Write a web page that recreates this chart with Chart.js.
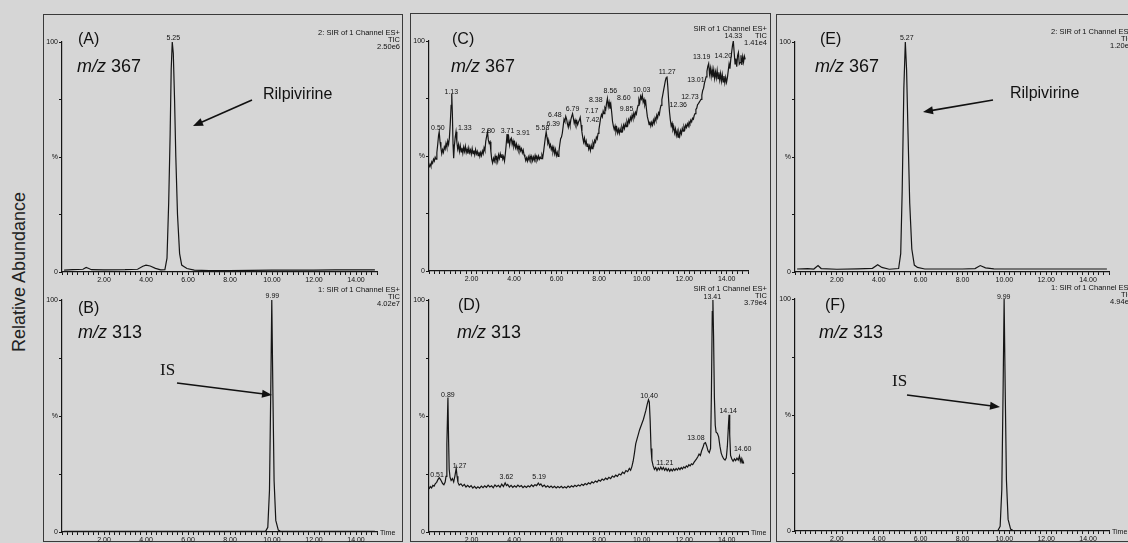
<!DOCTYPE html>
<html>
<head>
<meta charset="utf-8">
<script src="https://cdn.jsdelivr.net/npm/chart.js@4.4.1/dist/chart.umd.min.js"></script>
<style>
  body { margin:0; width:1128px; height:543px; background:#d6d6d6; position:relative; overflow:hidden; font-family:"Liberation Sans", Arial, sans-serif; }
  .caja { position:absolute; border:1.5px solid #3a3a3a; box-sizing:border-box; }
  canvas { position:absolute; }
  #ylab { position:absolute; left:19px; top:272px; transform:translate(-50%,-50%) rotate(-90deg); font-size:18px; color:#222; white-space:nowrap; }
</style>
</head>
<body>
<div class="caja" style="left:43px;top:14px;width:360px;height:528px"></div>
<div class="caja" style="left:410px;top:13px;width:361px;height:529px"></div>
<div class="caja" style="left:776px;top:14px;width:360px;height:528px"></div>
<div id="ylab">Relative Abundance</div>
<canvas id="chA"></canvas>
<canvas id="chB"></canvas>
<canvas id="chC"></canvas>
<canvas id="chD"></canvas>
<canvas id="chE"></canvas>
<canvas id="chF"></canvas>
<script>
// ejes
const timeTicks = [2, 4, 6, 8, 10, 12, 14];
const abundanceTicks = { 0: "0", 50: "%", 100: "100" };

// (A) m/z 367 - Rilpivirine
const timeA = [0.1, 0.5, 1.0, 1.15, 1.25, 1.4, 2.0, 3.0, 3.6, 3.85, 4.0, 4.2, 4.45, 4.7, 4.9, 5.0, 5.08, 5.15, 5.2, 5.25, 5.3, 5.36, 5.42, 5.5, 5.6, 5.7, 5.8, 5.95, 6.3, 7.0, 8.0, 9.0, 10.0, 11.0, 12.0, 13.0, 14.0, 14.9];
const signalA = [0.8, 1.0, 1.2, 2.0, 1.6, 1.0, 0.9, 1.0, 1.2, 2.5, 3.0, 2.6, 1.6, 0.9, 1.0, 6, 30, 60, 88, 100, 95, 75, 50, 25, 8, 3, 2.4, 1.5, 0.8, 0.6, 0.6, 0.7, 0.8, 0.8, 0.8, 0.9, 0.9, 0.9];

// (B) m/z 313 - IS
const timeB = [0.1, 2.0, 5.0, 8.0, 9.6, 9.7, 9.8, 9.88, 9.94, 9.99, 10.04, 10.1, 10.18, 10.3, 10.4, 11.0, 13.0, 14.9];
const signalB = [0.3, 0.3, 0.3, 0.3, 0.3, 0.4, 2, 18, 60, 100, 62, 22, 5, 0.8, 0.3, 0.3, 0.3, 0.3];

// (C) m/z 367 - blanco
const timeC = [0.00, 0.05, 0.09, 0.13, 0.17, 0.21, 0.25, 0.29, 0.33, 0.37, 0.41, 0.45, 0.48, 0.52, 0.56, 0.60, 0.64, 0.68, 0.72, 0.76, 0.80, 0.84, 0.88, 0.92, 0.96, 1.00, 1.04, 1.07, 1.10, 1.13, 1.16, 1.19, 1.23, 1.27, 1.31, 1.35, 1.39, 1.43, 1.47, 1.51, 1.55, 1.59, 1.63, 1.67, 1.71, 1.75, 1.79, 1.83, 1.87, 1.91, 1.95, 1.99, 2.03, 2.07, 2.11, 2.15, 2.19, 2.23, 2.27, 2.31, 2.35, 2.39, 2.43, 2.47, 2.51, 2.55, 2.59, 2.63, 2.67, 2.71, 2.75, 2.79, 2.83, 2.87, 2.91, 2.95, 2.99, 3.03, 3.07, 3.11, 3.15, 3.19, 3.23, 3.27, 3.31, 3.35, 3.39, 3.43, 3.47, 3.51, 3.55, 3.59, 3.63, 3.67, 3.71, 3.75, 3.79, 3.83, 3.87, 3.91, 3.95, 3.99, 4.03, 4.07, 4.11, 4.15, 4.19, 4.23, 4.27, 4.31, 4.35, 4.39, 4.43, 4.47, 4.51, 4.55, 4.59, 4.63, 4.67, 4.71, 4.75, 4.79, 4.83, 4.87, 4.91, 4.95, 4.99, 5.03, 5.07, 5.11, 5.15, 5.19, 5.23, 5.27, 5.31, 5.35, 5.39, 5.43, 5.47, 5.51, 5.55, 5.59, 5.63, 5.67, 5.71, 5.75, 5.79, 5.83, 5.87, 5.91, 5.95, 5.99, 6.03, 6.07, 6.11, 6.15, 6.19, 6.23, 6.27, 6.31, 6.35, 6.39, 6.43, 6.47, 6.51, 6.55, 6.59, 6.63, 6.67, 6.71, 6.75, 6.79, 6.83, 6.87, 6.91, 6.95, 6.99, 7.03, 7.07, 7.11, 7.15, 7.19, 7.23, 7.27, 7.31, 7.35, 7.39, 7.43, 7.47, 7.51, 7.55, 7.59, 7.63, 7.67, 7.71, 7.75, 7.79, 7.83, 7.87, 7.91, 7.95, 7.99, 8.03, 8.07, 8.11, 8.15, 8.19, 8.23, 8.27, 8.31, 8.35, 8.39, 8.43, 8.47, 8.51, 8.55, 8.59, 8.63, 8.67, 8.71, 8.75, 8.79, 8.83, 8.87, 8.91, 8.95, 8.99, 9.03, 9.07, 9.11, 9.15, 9.19, 9.23, 9.27, 9.31, 9.35, 9.39, 9.43, 9.47, 9.51, 9.55, 9.59, 9.63, 9.67, 9.71, 9.75, 9.79, 9.83, 9.87, 9.91, 9.95, 9.99, 10.03, 10.07, 10.11, 10.15, 10.19, 10.23, 10.27, 10.31, 10.35, 10.39, 10.43, 10.47, 10.51, 10.55, 10.59, 10.63, 10.67, 10.71, 10.75, 10.79, 10.83, 10.87, 10.91, 10.95, 10.99, 11.03, 11.07, 11.11, 11.15, 11.19, 11.23, 11.27, 11.31, 11.35, 11.39, 11.43, 11.47, 11.51, 11.55, 11.59, 11.63, 11.67, 11.71, 11.75, 11.79, 11.83, 11.87, 11.91, 11.95, 11.99, 12.03, 12.07, 12.11, 12.15, 12.19, 12.23, 12.27, 12.31, 12.35, 12.39, 12.43, 12.47, 12.51, 12.55, 12.59, 12.63, 12.67, 12.71, 12.75, 12.79, 12.83, 12.87, 12.91, 12.95, 12.99, 13.03, 13.07, 13.11, 13.15, 13.19, 13.23, 13.27, 13.31, 13.35, 13.39, 13.43, 13.47, 13.51, 13.55, 13.59, 13.63, 13.67, 13.71, 13.75, 13.79, 13.83, 13.87, 13.91, 13.95, 13.99, 14.03, 14.07, 14.11, 14.15, 14.19, 14.23, 14.27, 14.31, 14.35, 14.39, 14.43, 14.47, 14.51, 14.55, 14.59, 14.63, 14.67, 14.71, 14.75, 14.79, 14.83, 14.87];
const signalC = [45, 46.5, 45.5, 47.5, 46.8, 48.6, 47.8, 49.5, 48.6, 51.5, 55, 59, 60.5, 56, 53.5, 51, 52.8, 51.6, 54, 53, 55.5, 53.8, 56.5, 55, 58, 64, 72, 77, 68, 55, 49, 54, 58, 60.5, 56, 53, 55, 52, 54.5, 51.8, 53.6, 51.2, 53.8, 52, 54.2, 51.5, 53, 51, 53.5, 51.4, 52.6, 50.8, 53.2, 51, 52.4, 50.5, 52.8, 50.9, 52, 50.2, 51.8, 49.8, 51.5, 50.2, 52.2, 51, 53.6, 52.4, 56.5, 58.5, 60.5, 57, 55.5, 56.2, 52, 48.5, 47, 49, 47.8, 50, 48.2, 49.5, 47.6, 50.5, 49, 51, 49.4, 50.8, 48.6, 49.8, 47.8, 51, 55, 59.5, 55.5, 58, 54.8, 57.2, 57.8, 55, 56.6, 54.2, 55.8, 53.6, 55.2, 53, 54.4, 52.6, 54, 52.2, 53.2, 51.4, 52.6, 50.5, 49.6, 48, 49.2, 47.8, 49.6, 48.2, 50, 48.4, 49.8, 48, 49.6, 48.2, 50.2, 48.6, 49.8, 48.4, 50, 48.6, 49.5, 48.8, 50.5, 49.4, 52, 55, 58, 60.5, 58, 55.5, 56.5, 54, 55, 52.8, 54, 51.8, 53.5, 51, 52.8, 50.2, 51.6, 49.8, 52, 55, 57.5, 58.2, 60, 63, 66, 65, 67.2, 66, 64, 62.5, 64.8, 63.2, 65.8, 67.2, 68.4, 66.5, 64.2, 65.6, 63.8, 65.2, 63.6, 64.8, 65.6, 66.8, 63.5, 60.5, 58, 56, 57.8, 55.2, 56.6, 54.2, 55.4, 53, 54.4, 52.4, 54.6, 53.2, 55.8, 54.6, 56.8, 56, 58.2, 57.4, 59.8, 61.5, 64, 66.5, 68, 67, 69.5, 68.4, 71, 70.2, 73, 75, 71.5, 73.4, 70.6, 72.5, 69, 65, 63, 61.5, 63, 60.6, 62.2, 60, 61.6, 59.8, 61.8, 60.4, 62.6, 61.2, 63.4, 62, 64, 62.8, 65, 63.6, 65.8, 64.6, 66.8, 65.6, 67.8, 66.4, 68.6, 67, 69, 68.2, 70.5, 72, 74.5, 73.2, 76, 74.8, 76.5, 73.4, 74.6, 72.2, 73.6, 70, 67, 65.5, 63.6, 65, 63, 64.6, 63.4, 65.6, 64.2, 66.6, 65.4, 67.8, 66.6, 68.8, 68, 70.5, 72, 74.5, 76.5, 78.5, 80.5, 82.5, 84, 84.6, 80, 74, 69, 65.6, 63, 64.2, 61.4, 62.6, 60, 61.8, 59, 60.8, 58.2, 60.4, 58.6, 61, 59.6, 62, 60.8, 62.8, 61.6, 63.4, 62.4, 64, 63, 64.8, 64, 65.6, 64.8, 66.4, 66, 67.6, 68.4, 70.2, 70.8, 72.4, 72.8, 73.4, 74, 74.6, 76.5, 78.5, 79.4, 81.6, 83, 84.4, 86.8, 89, 90.2, 85.6, 88.2, 84.6, 87.6, 84.2, 87.4, 83.8, 86.6, 84, 87.2, 83.6, 86.4, 83, 85.8, 82.6, 85.4, 82.2, 84.8, 81.8, 84.2, 82, 84, 87, 90, 88, 92, 95, 98, 100, 95, 90, 92.4, 88.8, 93.6, 95, 90, 90.6, 93.8, 89.6, 93.2, 90.8, 93.4, 92];

// (D) m/z 313 - blanco
const timeD = [0.00, 0.06, 0.12, 0.18, 0.24, 0.30, 0.36, 0.42, 0.48, 0.53, 0.58, 0.64, 0.70, 0.76, 0.80, 0.84, 0.89, 0.92, 0.95, 0.99, 1.04, 1.10, 1.16, 1.22, 1.28, 1.32, 1.36, 1.42, 1.50, 1.58, 1.66, 1.74, 1.82, 1.90, 1.98, 2.06, 2.14, 2.22, 2.30, 2.38, 2.46, 2.54, 2.62, 2.70, 2.78, 2.86, 2.94, 3.02, 3.10, 3.18, 3.26, 3.34, 3.42, 3.50, 3.58, 3.64, 3.70, 3.78, 3.86, 3.94, 4.02, 4.10, 4.18, 4.26, 4.34, 4.42, 4.50, 4.58, 4.66, 4.74, 4.82, 4.90, 4.98, 5.06, 5.14, 5.20, 5.26, 5.34, 5.42, 5.50, 5.58, 5.66, 5.74, 5.82, 5.90, 5.98, 6.06, 6.14, 6.22, 6.30, 6.38, 6.46, 6.54, 6.62, 6.70, 6.78, 6.86, 6.94, 7.02, 7.10, 7.18, 7.26, 7.34, 7.42, 7.50, 7.58, 7.66, 7.74, 7.82, 7.90, 7.98, 8.06, 8.14, 8.22, 8.30, 8.38, 8.46, 8.54, 8.62, 8.70, 8.78, 8.86, 8.94, 9.02, 9.10, 9.18, 9.26, 9.34, 9.42, 9.48, 9.54, 9.60, 9.66, 9.72, 9.78, 9.84, 9.90, 9.96, 10.02, 10.08, 10.14, 10.20, 10.26, 10.32, 10.36, 10.40, 10.44, 10.48, 10.54, 10.60, 10.66, 10.72, 10.78, 10.84, 10.90, 10.96, 11.02, 11.08, 11.14, 11.20, 11.26, 11.32, 11.38, 11.44, 11.50, 11.56, 11.62, 11.68, 11.74, 11.80, 11.86, 11.92, 11.98, 12.04, 12.10, 12.16, 12.22, 12.28, 12.34, 12.40, 12.46, 12.52, 12.58, 12.64, 12.70, 12.76, 12.82, 12.88, 12.94, 13.00, 13.06, 13.12, 13.18, 13.24, 13.28, 13.32, 13.35, 13.38, 13.42, 13.46, 13.50, 13.56, 13.62, 13.68, 13.74, 13.80, 13.86, 13.92, 13.98, 14.03, 14.08, 14.11, 14.14, 14.18, 14.24, 14.30, 14.36, 14.42, 14.48, 14.54, 14.60, 14.64, 14.68, 14.72, 14.76, 14.80];
const signalD = [18.5, 19.6, 19.0, 20.1, 19.8, 20.9, 21.4, 22.6, 23.4, 22.8, 22.0, 20.9, 20.4, 21.5, 24, 38, 58, 40, 27, 23.5, 22.2, 23, 21.6, 24.2, 27.5, 24, 21.5, 20.2, 20.8, 19.8, 20.5, 19.4, 20.1, 19.3, 20, 18.9, 19.7, 18.8, 19.5, 18.9, 19.8, 19.1, 19.9, 19.2, 20.2, 19.4, 19.9, 19.1, 20.3, 19.5, 20.1, 19.3, 20.6, 19.6, 21.2, 20.0, 20.5, 19.4, 20.1, 19.2, 19.9, 19.3, 20.2, 19.5, 20.0, 19.1, 19.8, 19.2, 19.9, 19.4, 20.3, 19.6, 20.4, 20.0, 21.1, 20.2, 20.7, 19.6, 20.2, 19.3, 19.9, 19.2, 19.8, 19.1, 19.7, 19.0, 19.6, 19.1, 19.7, 19.0, 19.5, 19.0, 19.8, 19.2, 19.9, 19.4, 20.1, 19.6, 20.3, 19.8, 20.6, 20.1, 20.9, 20.4, 21.2, 20.7, 21.6, 21.1, 22.0, 21.5, 22.4, 21.9, 22.8, 22.3, 23.2, 22.7, 23.6, 23.0, 24.1, 23.6, 24.5, 24.0, 25.0, 24.6, 25.8, 25.2, 26.5, 26.0, 27.4, 26.6, 28.2, 30.5, 34, 38, 40, 42, 44, 45.5, 47, 48.5, 50.5, 52.5, 55, 57, 56, 48, 36, 31, 28.5, 27, 27.8, 26.5, 27.6, 26.8, 28, 26.9, 27.8, 26.6, 27.5, 26.4, 27.3, 26.2, 27.1, 26.3, 27.2, 26.5, 27.4, 26.7, 27.6, 26.9, 27.8, 27.2, 28.1, 27.6, 28.5, 28.0, 29.0, 28.5, 29.4, 29.0, 30.0, 30.8, 31.5, 32.4, 33.6, 33.0, 35.0, 36.4, 38.2, 38.5, 37, 35, 34.2, 36, 60, 95, 100, 85, 58, 46, 43, 42.5, 41, 37, 34, 32.5, 31.5, 31, 32, 37, 46, 50.5, 42, 33, 31.5, 30.5, 31.5, 30.8, 31.8, 31.0, 32.8, 30.4, 31.6, 29.8, 30.6, 29.5];

// (E) m/z 367 - muestra
const timeE = [0.1, 0.6, 0.9, 1.1, 1.25, 2.0, 3.0, 3.7, 3.95, 4.15, 4.5, 4.95, 5.05, 5.12, 5.2, 5.27, 5.33, 5.4, 5.48, 5.58, 5.7, 5.85, 6.2, 7.0, 8.0, 8.6, 8.85, 9.1, 9.5, 11.0, 13.0, 14.9];
const signalE = [1.3, 1.5, 1.3, 2.8, 1.5, 1.2, 1.4, 1.6, 3.2, 2.0, 1.2, 1.5, 8, 35, 80, 100, 88, 60, 30, 10, 3, 2, 1.3, 1.3, 1.3, 1.5, 2.8, 1.8, 1.4, 1.3, 1.3, 1.3];

// (F) m/z 313 - muestra
const timeF = [0.1, 2.0, 5.0, 8.0, 9.6, 9.7, 9.8, 9.88, 9.94, 9.99, 10.04, 10.1, 10.18, 10.3, 10.4, 11.0, 13.0, 14.9];
const signalF = [0.2, 0.2, 0.2, 0.2, 0.2, 0.3, 2, 18, 60, 100, 62, 22, 5, 0.8, 0.3, 0.2, 0.2, 0.2];

// etiquetas de picos: texto, tiempo, nivel
const peaksA = [["5.25", 5.3, 101.5]];
const peaksB = [["9.99", 10.02, 101.5]];
const peaksC = [["0.50", 0.42, 62.2], ["1.13", 1.05, 77.6], ["1.33", 1.68, 62.2], ["2.80", 2.78, 60.9], ["3.71", 3.69, 60.7], ["3.91", 4.42, 60], ["5.58", 5.34, 62.2], ["6.39", 5.84, 63.8], ["6.48", 5.92, 68], ["6.79", 6.75, 70.2], ["7.17", 7.64, 69.4], ["7.42", 7.69, 65.8], ["8.38", 7.84, 74.2], ["8.56", 8.53, 78.3], ["8.60", 9.16, 75.4], ["9.85", 9.29, 70.2], ["10.03", 10.0, 78.6], ["11.27", 11.2, 86.5], ["12.36", 11.72, 72.3], ["12.73", 12.27, 75.7], ["13.01", 12.55, 82.9], ["13.19", 12.82, 92.8], ["14.20", 13.84, 93.3], ["14.33", 14.31, 102]];
const peaksD = [["0.51", 0.38, 24.7], ["0.89", 0.89, 59.1], ["1.27", 1.44, 28.5], ["3.62", 3.64, 23.7], ["5.19", 5.18, 23.7], ["10.40", 10.35, 58.4], ["11.21", 11.09, 29.7], ["13.08", 12.55, 40.5], ["13.41", 13.32, 101.2], ["14.14", 14.07, 52.2], ["14.60", 14.75, 35.7]];
const peaksE = [["5.27", 5.34, 101.6]];
const peaksF = [["9.99", 9.97, 101]];

const PADL = 30, PADT = 30, PADR = 42, PADB = 14;
const FONT = '"Liberation Sans", Arial, sans-serif';

const paneles = [
  { id: "chA", area: [62, 42, 377, 272], times: timeA, values: signalA, peaks: peaksA,
    letter: "(A)", letterAt: [78, 40], mz: "367", mzAt: [77, 67],
    compound: "Rilpivirine", compoundAt: [263, 95], arrow: [252, 100, 193, 126],
    header: ["2: SIR of 1 Channel ES+", "TIC", "2.50e6"], headerAt: [400, 33], time: false },
  { id: "chB", area: [62, 300, 377, 532], times: timeB, values: signalB, peaks: peaksB,
    letter: "(B)", letterAt: [78, 309], mz: "313", mzAt: [78, 333],
    is: "IS", isAt: [160, 371], arrow: [177, 383, 272, 395],
    header: ["1: SIR of 1 Channel ES+", "TIC", "4.02e7"], headerAt: [400, 290], time: true },
  { id: "chC", area: [429, 41, 748, 271], times: timeC, values: signalC, peaks: peaksC,
    letter: "(C)", letterAt: [452, 40], mz: "367", mzAt: [451, 67],
    header: ["SIR of 1 Channel ES+", "TIC", "1.41e4"], headerAt: [767, 29], time: false },
  { id: "chD", area: [429, 300, 748, 532], times: timeD, values: signalD, peaks: peaksD,
    letter: "(D)", letterAt: [458, 306], mz: "313", mzAt: [457, 333],
    header: ["SIR of 1 Channel ES+", "TIC", "3.79e4"], headerAt: [767, 289], time: true },
  { id: "chE", area: [795, 42, 1109, 272], times: timeE, values: signalE, peaks: peaksE,
    letter: "(E)", letterAt: [820, 40], mz: "367", mzAt: [815, 67],
    compound: "Rilpivirine", compoundAt: [1010, 94], arrow: [993, 100, 923, 112],
    header: ["2: SIR of 1 Channel ES+", "TIC", "1.20e6"], headerAt: [1133, 32], time: false },
  { id: "chF", area: [795, 299, 1109, 531], times: timeF, values: signalF, peaks: peaksF,
    letter: "(F)", letterAt: [825, 306], mz: "313", mzAt: [819, 333],
    is: "IS", isAt: [892, 382], arrow: [907, 395, 1000, 407],
    header: ["1: SIR of 1 Channel ES+", "TIC", "4.94e6"], headerAt: [1133, 288], time: true },
];

const notas = {
  id: "notas",
  afterDraw(chart, args, p) {
    const ctx = chart.ctx, a = chart.chartArea;
    const xs = chart.scales.x, ys = chart.scales.y;
    const ox = p.area[0] - PADL, oy = p.area[1] - PADT;
    ctx.save();
    ctx.fillStyle = "#111";
    ctx.strokeStyle = "#111";
    ctx.textBaseline = "middle";
    // letra del panel
    ctx.font = "16px " + FONT;
    ctx.textAlign = "left";
    ctx.fillText(p.letter, p.letterAt[0] - ox, p.letterAt[1] - oy);
    // m/z
    ctx.font = "italic 18px " + FONT;
    ctx.fillText("m/z", p.mzAt[0] - ox, p.mzAt[1] - oy);
    const w = ctx.measureText("m/z ").width;
    ctx.font = "18px " + FONT;
    ctx.fillText(p.mz, p.mzAt[0] - ox + w, p.mzAt[1] - oy);
    if (p.compound) {
      ctx.font = "16px " + FONT;
      ctx.fillText(p.compound, p.compoundAt[0] - ox, p.compoundAt[1] - oy);
    }
    if (p.is) {
      ctx.font = '17px "Liberation Serif", "Times New Roman", serif';
      ctx.fillText(p.is, p.isAt[0] - ox, p.isAt[1] - oy);
    }
    if (p.arrow) {
      const [x1, y1, x2, y2] = p.arrow.map((v, i) => v - (i % 2 ? oy : ox));
      const ang = Math.atan2(y2 - y1, x2 - x1);
      ctx.lineWidth = 1.6;
      ctx.beginPath();
      ctx.moveTo(x1, y1);
      ctx.lineTo(x2 - 8 * Math.cos(ang), y2 - 8 * Math.sin(ang));
      ctx.stroke();
      ctx.beginPath();
      ctx.moveTo(x2, y2);
      ctx.lineTo(x2 - 10 * Math.cos(ang) + 4 * Math.sin(ang), y2 - 10 * Math.sin(ang) - 4 * Math.cos(ang));
      ctx.lineTo(x2 - 10 * Math.cos(ang) - 4 * Math.sin(ang), y2 - 10 * Math.sin(ang) + 4 * Math.cos(ang));
      ctx.closePath();
      ctx.fill();
    }
    // etiquetas de picos
    ctx.font = "7px " + FONT;
    ctx.textAlign = "center";
    p.peaks.forEach(([txt, t, v]) => {
      ctx.fillText(txt, xs.getPixelForValue(t), ys.getPixelForValue(v));
    });
    // cabecera
    ctx.font = "7.5px " + FONT;
    ctx.textAlign = "right";
    p.header.forEach((txt, i) => {
      ctx.fillText(txt, p.headerAt[0] - ox, p.headerAt[1] - oy + i * 7);
    });
    if (p.time) {
      ctx.textAlign = "left";
      ctx.font = "7px " + FONT;
      ctx.fillText("Time", a.right + 3, a.bottom + 1);
    }
    ctx.restore();
  }
};

paneles.forEach(p => {
  const cv = document.getElementById(p.id);
  const [l, t, r, b] = p.area;
  cv.width = r - l + PADL + PADR;
  cv.height = b - t + PADT + PADB;
  cv.style.left = (l - PADL) + "px";
  cv.style.top = (t - PADT) + "px";
  new Chart(cv, {
    type: "line",
    data: {
      datasets: [{
        data: p.times.map((x, i) => ({ x: x, y: p.values[i] })),
        borderColor: "#151515",
        borderWidth: 1.2,
        pointRadius: 0,
        tension: 0,
      }],
    },
    options: {
      responsive: false,
      animation: false,
      devicePixelRatio: 1,
      layout: { padding: { left: 0, top: PADT, right: PADR, bottom: 0 } },
      plugins: { legend: { display: false }, tooltip: { enabled: false }, notas: p },
      scales: {
        x: {
          type: "linear", min: 0, max: 15,
          afterFit: s => { s.height = PADB; },
          border: { color: "#151515", width: 1.2 },
          grid: { drawOnChartArea: false, tickLength: 3, color: "#151515" },
          ticks: {
            stepSize: 0.25, autoSkip: false, maxRotation: 0, padding: 1,
            font: { size: 7, family: FONT }, color: "#111",
            callback: v => timeTicks.includes(v) ? v.toFixed(2) : "",
          },
        },
        y: {
          min: 0, max: 100,
          afterFit: s => { s.width = PADL; },
          border: { color: "#151515", width: 1.2 },
          grid: { drawOnChartArea: false, tickLength: 3, color: "#151515" },
          ticks: {
            stepSize: 25, autoSkip: false, padding: 1,
            font: { size: 7, family: FONT }, color: "#111",
            callback: v => abundanceTicks[v] !== undefined ? abundanceTicks[v] : "",
          },
        },
      },
    },
    plugins: [notas],
  });
});
</script>
</body>
</html>
